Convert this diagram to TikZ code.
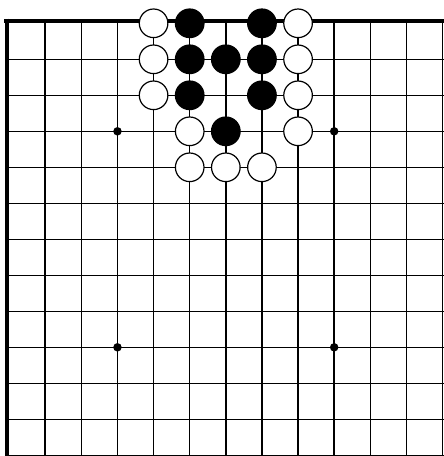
\documentclass[tikz,border=0pt]{standalone}
\begin{document}
\begin{tikzpicture}[x=1pt,y=-1pt,
  gridline/.style={line width=1.45pt,black},
  edgeline/.style={line width=4.6pt,black},
  wstone/.style={circle,draw=black,fill=white,line width=1.2pt,minimum size=28.6pt,inner sep=0pt},
  bstone/.style={circle,draw=black,fill=black,line width=1.2pt,minimum size=28.6pt,inner sep=0pt},
  hoshi/.style={circle,fill=black,minimum size=8.5pt,inner sep=0pt}]
\useasboundingbox (0,0) rectangle (444,456);
\clip (0,0) rectangle (444,456);
\def\xo{9.1}\def\yo{23.3}\def\dx{36.12}\def\dy{36}
% grid
\foreach \c in {1,...,12} \draw[gridline] ({\xo+\dx*\c},\yo) -- ({\xo+\dx*\c},460);
\foreach \r in {1,...,12} \draw[gridline] (\xo,{\yo+\dy*\r}) -- (450,{\yo+\dy*\r});
% board edges
\draw[edgeline] (4.3,21.0) -- (450,21.0);
\draw[edgeline] (6.8,18.7) -- (6.8,460);
% star points
\foreach \c/\r in {3/3,9/3,3/9,9/9}
  \node[hoshi] (h\c-\r) at ({\xo+\dx*\c},{\yo+\dy*\r}) {};
% white stones
\foreach \c/\r in {4/0,8/0,4/1,8/1,4/2,8/2,5/3,8/3,5/4,6/4,7/4}
  \node[wstone] (w\c-\r) at ({\xo+\dx*\c},{\yo+\dy*\r}) {};
% black stones
\foreach \c/\r in {5/0,7/0,5/1,6/1,7/1,5/2,7/2,6/3}
  \node[bstone] (b\c-\r) at ({\xo+\dx*\c},{\yo+\dy*\r}) {};
\end{tikzpicture}
\end{document}
